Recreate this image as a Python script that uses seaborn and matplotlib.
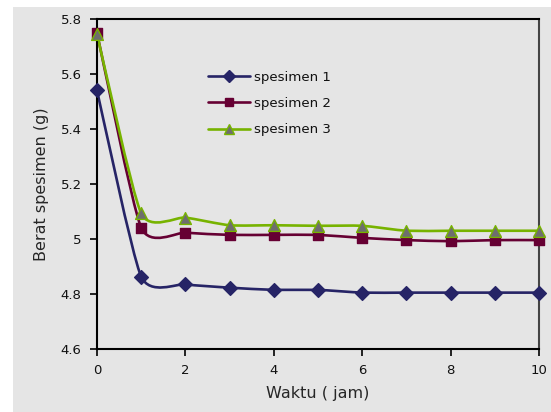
import numpy as np
import matplotlib
matplotlib.use('Agg')
import matplotlib.pyplot as plt
import seaborn as sns
from matplotlib.path import Path
from matplotlib.patches import PathPatch, Rectangle
from matplotlib.lines import Line2D

# ---- data ----
waktu = [0, 1, 2, 3, 4, 5, 6, 7, 8, 9, 10]
spesimen_1 = [5.54, 4.863, 4.835, 4.823, 4.815, 4.815, 4.805, 4.805, 4.805, 4.805, 4.805]
spesimen_2 = [5.75, 5.041, 5.023, 5.015, 5.015, 5.015, 5.004, 4.996, 4.992, 4.996, 4.996]
spesimen_3 = [5.745, 5.093, 5.078, 5.050, 5.050, 5.048, 5.048, 5.030, 5.030, 5.030, 5.030]
labels = ['spesimen 1', 'spesimen 2', 'spesimen 3']

line_colors = ['#262466', '#660033', '#77b300']
marker_faces = ['#262466', '#660033', '#6e6e6e']
markers = ['D', 's', '^']
msizes = [7, 7, 8.5]

sns.set_theme(style='ticks')
plt.rcParams['font.family'] = ['DejaVu Sans']

fig = plt.figure(figsize=(5.51, 4.12), dpi=100)
fig.patch.set_facecolor('white')
fig.patches.append(Rectangle((13 / 551, 0), 1, (412 - 7) / 412, transform=fig.transFigure,
                             facecolor='#e5e5e5', edgecolor='none', zorder=-10))
ax = fig.add_axes([97 / 551, (412 - 349) / 412, (539 - 97) / 551, (349 - 19) / 412])
ax.set_facecolor('#e5e5e5')


def smooth_path(xs, ys, k=1 / 10):
    # cubic bezier segments (Excel-style smoothed line)
    pts = np.column_stack([xs, ys]).astype(float)
    verts = [pts[0]]
    codes = [Path.MOVETO]
    n = len(pts)
    for i in range(n - 1):
        p0 = pts[max(i - 1, 0)]
        p1 = pts[i]
        p2 = pts[i + 1]
        p3 = pts[min(i + 2, n - 1)]
        c1 = p1 + (p2 - p0) * k
        c2 = p2 - (p3 - p1) * k
        verts += [c1, c2, p2]
        codes += [Path.CURVE4] * 3
    return Path(verts, codes)


series = [spesimen_1, spesimen_2, spesimen_3]
handles = []
for vals, lab, lc, mf, mk, ms in zip(series, labels, line_colors, marker_faces, markers, msizes):
    ax.add_patch(PathPatch(smooth_path(waktu, vals), facecolor='none', edgecolor=lc,
                           lw=1.9, zorder=2))
    sns.scatterplot(x=waktu, y=vals, ax=ax, marker=mk, s=ms ** 2, color=mf,
                    edgecolor=lc, linewidth=1.0, zorder=3, legend=False, clip_on=False)
    handles.append(Line2D([], [], color=lc, lw=1.9, marker=mk, markersize=ms - 1,
                          markerfacecolor=mf, markeredgecolor=lc, label=lab))

ax.set_xlim(0, 10)
ax.set_ylim(4.6, 5.8)
ax.set_xticks([0, 2, 4, 6, 8, 10])
ax.set_yticks([4.6, 4.8, 5.0, 5.2, 5.4, 5.6, 5.8])
ax.set_yticklabels(['4.6', '4.8', '5', '5.2', '5.4', '5.6', '5.8'])
ax.tick_params(axis='both', labelsize=9.5, length=5, width=1.2, color='black',
               labelcolor='#111111', pad=6)
for s in ['left', 'bottom', 'top']:
    ax.spines[s].set_color('black')
    ax.spines[s].set_linewidth(1.5)
ax.spines['right'].set_color('#444444')
ax.spines['right'].set_linewidth(1.5)

ax.set_xlabel('Waktu ( jam)', fontsize=11.5, labelpad=6)
ax.set_ylabel('Berat spesimen (g)', fontsize=11.5, labelpad=8)

leg = ax.legend(handles=handles, loc='upper left', bbox_to_anchor=(0.24, 0.86),
                frameon=False, fontsize=9.6, handlelength=3.1, handletextpad=0.3,
                labelspacing=1.0, borderaxespad=0)
for t in leg.get_texts():
    t.set_color('#111111')

fig.savefig('out.png', dpi=100)
